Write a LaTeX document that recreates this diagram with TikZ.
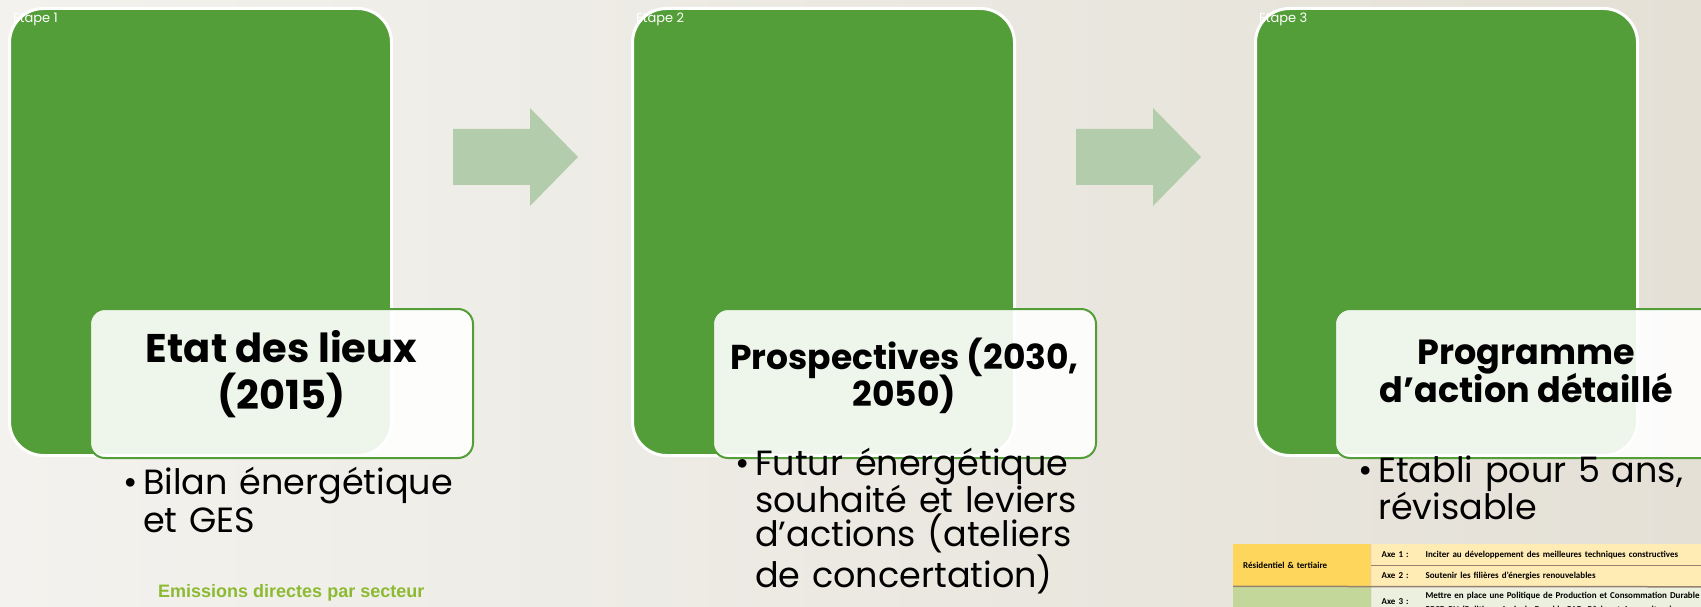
\documentclass[tikz,border=0pt]{standalone}
\usepackage{fontspec}
\setmainfont{Poppins}
\newfontfamily\arialfont{Liberation Sans}
\newfontfamily\calibrifont{Carlito}
\usetikzlibrary{positioning,calc}
\setlength{\lineskiplimit}{-50pt}

\definecolor{vertetape}{RGB}{83,158,56}
\definecolor{vertfleche}{RGB}{179,205,172}
\definecolor{vertemis}{RGB}{140,186,50}
\definecolor{fondg}{RGB}{243,242,238}
\definecolor{fondd}{RGB}{228,224,214}
\definecolor{jaune}{RGB}{255,214,92}
\definecolor{jaunec}{RGB}{255,235,180}
\definecolor{vertc}{RGB}{196,215,155}
\definecolor{vertcc}{RGB}{235,241,222}
\definecolor{trait}{RGB}{150,130,110}

\begin{document}
\begin{tikzpicture}[x=1pt,y=-1pt,
    etape/.style={draw=white, line width=3pt, fill=vertetape, rounded corners=34pt,
      minimum width=382pt, minimum height=447pt, inner sep=0pt, anchor=north west},
    titre/.style={draw=vertetape, line width=2pt, fill=white, fill opacity=.9,
      rounded corners=15pt, minimum width=383pt, minimum height=149pt, inner sep=0pt,
      anchor=north west},
    nom/.style={align=center, inner sep=0pt},
    numero/.style={text=white, font=\fontsize{13}{15}\selectfont, anchor=base west, inner sep=0pt},
    puce/.style={anchor=base west, text width=360pt, align=left, inner sep=0pt},
    fleche/.style={fill=vertfleche},
    cellule/.style={anchor=north west, inner xsep=10pt, inner ysep=0pt, align=left,
      font=\calibrifont\bfseries\fontsize{9}{14}\selectfont}]
  \useasboundingbox (0,0) rectangle (1701,607);
  \shade[left color=fondg, right color=fondd] (0,0) rectangle (1701,607);

  % les trois etapes
  \node[etape] (etape1) at (8,7) {};
  \node[etape] (etape2) at (631,7) {};
  \node[etape] (etape3) at (1254,7) {};
  \foreach \i in {1,2,3}
    \node[numero] at ($(etape\i.north west)+(5,16)$) {Etape \i};

  % fleches
  \foreach \i/\j in {1/2,2/3}{
    \coordinate (f\i) at ($(etape\i.north east)!.5!(etape\j.north west)+(3,150)$);
    \fill[fleche] (f\i) ++(-62,-28) -- ++(77,0) -- ++(0,-21) -- ++(48,49)
      -- ++(-48,49) -- ++(0,-21) -- ++(-77,0) -- cycle;
  }

  % titres
  \node[titre] (titre1) at ($(etape1.north west)+(81,301)$) {};
  \node[titre] (titre2) at ($(etape2.north west)+(81,301)$) {};
  \node[titre] (titre3) at ($(etape3.north west)+(80,301)$) {};
  \node[nom, font=\bfseries\fontsize{40}{47}\selectfont] (nom1) at ($(titre1.center)+(0,-9)$)
    {Etat des lieux\\(2015)};
  \node[nom, font=\bfseries\fontsize{34.5}{37}\selectfont] (nom2) at ($(titre2.center)+(0,-8)$)
    {Prospectives (2030,\\2050)};
  \node[nom, font=\bfseries\fontsize{35}{38}\selectfont] (nom3) at ($(titre3.center)+(0,-12)$)
    {Programme\\d’action détaillé};

  % textes
  \node[puce, font=\fontsize{35}{38}\selectfont] (puce1) at ($(titre1.south west)+(34,35)$)
    {\makebox[20pt][l]{\textbullet}Bilan énergétique\\\hspace*{20pt}et GES};
  \node[puce, font=\fontsize{35}{33}\selectfont] (puce2) at ($(titre2.south west)+(23,16)$)
    {\makebox[20pt][l]{\textbullet}Futur énergétique\\\hspace*{20pt}souhaité et leviers\\
     \hspace*{20pt}d’actions (ateliers\\\hspace*{20pt}de concertation)};
  \node[puce, font=\fontsize{35}{36}\selectfont] (puce3) at ($(titre3.south west)+(24,23)$)
    {\makebox[20pt][l]{\textbullet}Etabli pour 5 ans,\\\hspace*{20pt}révisable};

  \node[anchor=base west, inner sep=0pt, text=vertemis, font=\arialfont\bfseries\fontsize{18}{21}\selectfont]
    (emis) at (158,597) {Emissions directes par secteur};

  % tableau
  \node[cellule, fill=jaune, minimum width=138pt, text width=118pt, minimum height=42pt] (ca) at (1233,544)
    {Résidentiel \& tertiaire};
  \node[cellule, fill=jaunec, minimum width=340pt, text width=320pt, minimum height=21pt] (cb1) at (ca.north east)
    {\makebox[44pt][l]{Axe 1 :}Inciter au développement des meilleures techniques constructives};
  \node[cellule, fill=jaunec, minimum width=340pt, text width=320pt, minimum height=21pt] (cb2) at (cb1.south west)
    {\makebox[44pt][l]{Axe 2 :}Soutenir les filières d’énergies renouvelables};
  \node[cellule, fill=vertc, minimum width=138pt, text width=118pt, minimum height=32pt] (cc) at (ca.south west) {};
  \node[cellule, fill=vertcc, minimum width=340pt, text width=320pt, minimum height=32pt] (cd) at (cc.north east)
    {\makebox[44pt][l]{Axe 3 :}\parbox{340pt}{Mettre en place une Politique de Production et Consommation Durable\\
     PPCD-PN (Politique Agricole Durable PAD, Pêche et Aquaculture)}};
  \draw[trait, line width=.8pt] (cb1.south west) -- (cb1.south east);
  \draw[trait, line width=1.5pt] (ca.south west) -- (cb2.south east);
\end{tikzpicture}
\end{document}
